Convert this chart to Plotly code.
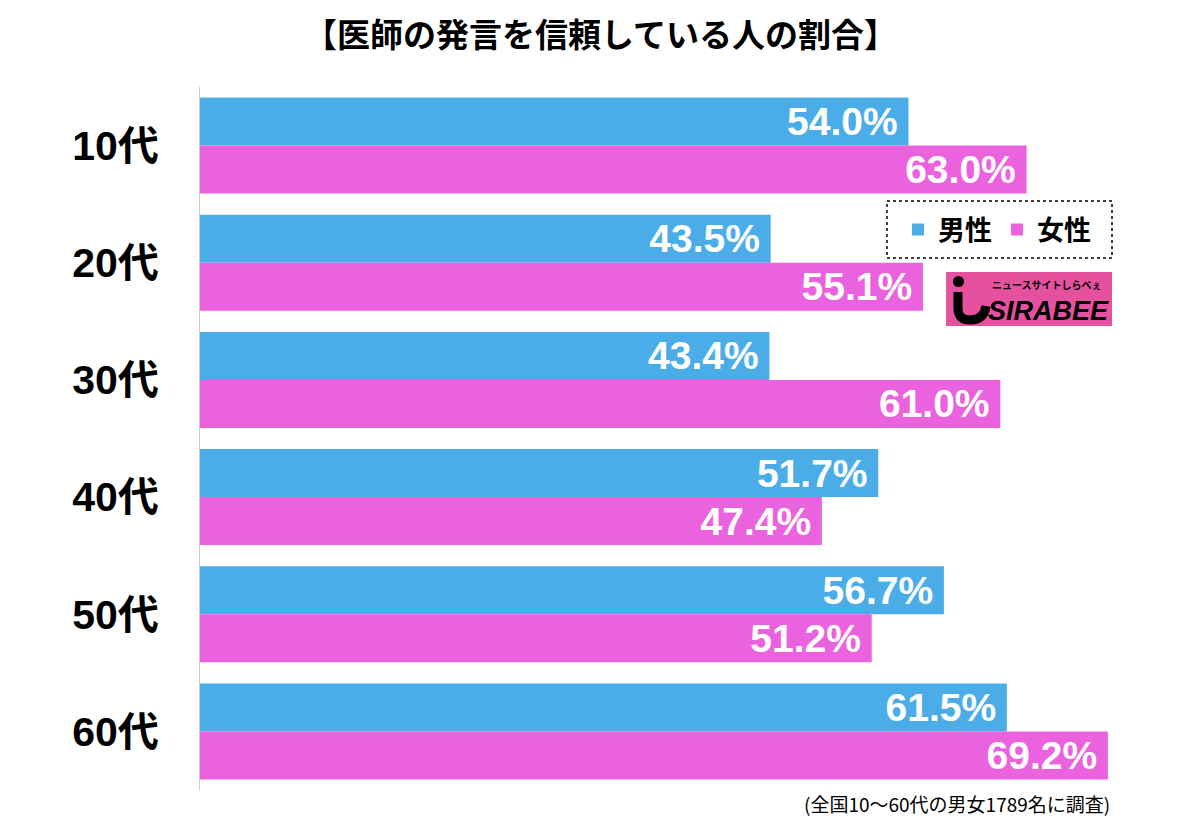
import plotly.graph_objects as go

categories = ["10代", "20代", "30代", "40代", "50代", "60代"]
male = [54.0, 43.5, 43.4, 51.7, 56.7, 61.5]
female = [63.0, 55.1, 61.0, 47.4, 51.2, 69.2]
series_names = ["男性", "女性"]
title_text = "【医師の発言を信頼している人の割合】"
note_text = "(全国10〜60代の男女1789名に調査)"

BLUE = "#4BADE8"
PINK = "#EB62DF"
JP = "Noto Sans CJK JP, Noto Sans, sans-serif"
NUM = "Liberation Sans, Noto Sans CJK JP, sans-serif"

# page has 8px body margin; work in window pixels and convert
W, H = 1192, 822
L, R, T, B = 192, 16, 79, 40
PW, PH = W - L - R, H - T - B


def px(X):
    return (X - 8 - L) / PW


def py(Y):
    return (H - B - (Y - 8)) / PH


fig = go.Figure()
for name, vals, col in [(series_names[0], male, BLUE), (series_names[1], female, PINK)]:
    fig.add_trace(go.Bar(
        y=categories, x=vals, name=name, orientation="h",
        marker=dict(color=col, line=dict(width=0)),
        text=[f"{v:.1f}%\u2009" for v in vals],
        textposition="inside", insidetextanchor="end",
        textfont=dict(family=NUM, size=39, color="white", weight="bold"),
        constraintext="none", cliponaxis=False,
    ))

fig.update_layout(
    width=W, height=H,
    paper_bgcolor="white", plot_bgcolor="white",
    margin=dict(l=L, r=R, t=T, b=B),
    barmode="group", bargap=0.18, bargroupgap=0,
    uniformtext=dict(minsize=39, mode="show"),
    xaxis=dict(range=[0, 75], visible=False, fixedrange=True),
    yaxis=dict(autorange="reversed", showline=True, linecolor="#d0d0d0", linewidth=1,
               ticks="", ticklabelstandoff=32,
               tickfont=dict(family=NUM, size=41, color="black", weight="bold")),
    showlegend=True,
    legend=dict(orientation="h", x=px(898), xanchor="left", y=py(230), yanchor="middle",
                bgcolor="rgba(0,0,0,0)", borderwidth=0,
                font=dict(family=JP, size=27, color="black", weight="bold"),
                itemwidth=30, itemsizing="constant", traceorder="normal"),
)

# title
fig.add_annotation(xref="paper", yref="paper", x=px(600), y=py(33),
                   text=f"<b>{title_text}</b>", showarrow=False, xanchor="center", yanchor="middle",
                   font=dict(family=JP, size=33, color="black"))

# dotted legend border
fig.add_shape(type="rect", xref="paper", yref="paper",
              x0=px(887), x1=px(1112), y0=py(258), y1=py(201),
              line=dict(color="black", width=1.5, dash="dot"), fillcolor="rgba(0,0,0,0)")

# logo
fig.add_shape(type="rect", xref="paper", yref="paper",
              x0=px(946), x1=px(1112), y0=py(326), y1=py(272),
              line=dict(width=0), fillcolor="#E6519F")
fig.add_shape(type="circle", xref="paper", yref="paper",
              x0=px(953), x1=px(964), y0=py(287), y1=py(276),
              line=dict(width=0), fillcolor="black")
fig.add_shape(type="path", xref="paper", yref="paper",
              path=(f"M {px(958)} {py(292)} L {px(958)} {py(308)} "
                    f"Q {px(958)} {py(320)} {px(970)} {py(320)} "
                    f"Q {px(984)} {py(320)} {px(986)} {py(306)}"),
              line=dict(color="black", width=9), fillcolor="rgba(0,0,0,0)")
fig.add_annotation(xref="paper", yref="paper", x=px(1111), y=py(311),
                   text="<i><b>SIRABEE</b></i>", showarrow=False, xanchor="right", yanchor="middle",
                   font=dict(family="Liberation Sans", size=27, color="black"))
fig.add_annotation(xref="paper", yref="paper", x=px(1104), y=py(284),
                   text="ニュースサイトしらべぇ", showarrow=False, xanchor="right", yanchor="middle",
                   font=dict(family=JP, size=10, color="black", weight="bold"))

fig.add_annotation(xref="paper", yref="paper", x=px(1112), y=py(803),
                   text=note_text, showarrow=False, xanchor="right", yanchor="middle",
                   font=dict(family=JP, size=19, color="black"))

fig.write_html("out.html")
